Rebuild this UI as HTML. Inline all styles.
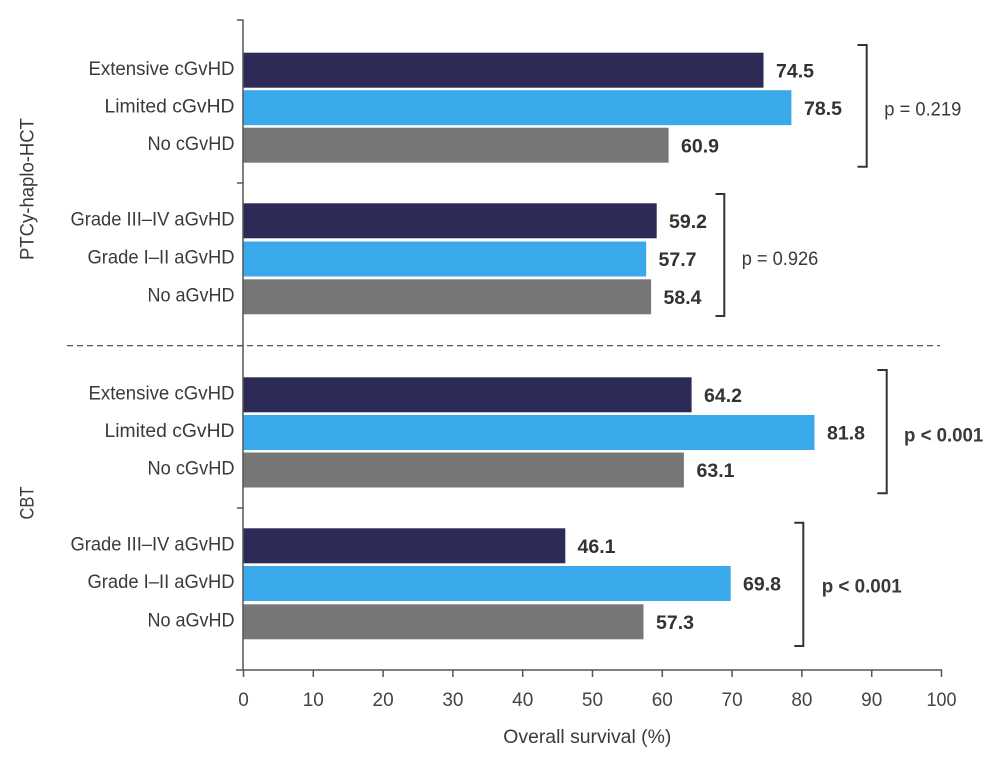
<!DOCTYPE html>
<html><head><meta charset="utf-8"><style>
html,body{margin:0;padding:0;background:#fff;}
svg{display:block;}
text{font-family:"Liberation Sans",sans-serif;fill:#3a3a3a;}
.cat{font-size:19.5px;text-anchor:end;}
.val{font-size:19px;font-weight:bold;fill:#333;}
.tick{font-size:19px;text-anchor:middle;fill:#444;}
</style></head><body>
<svg width="1000" height="764" viewBox="0 0 1000 764" xmlns="http://www.w3.org/2000/svg">
<line x1="67" y1="345.7" x2="940" y2="345.7" stroke="#444" stroke-width="1.2" stroke-dasharray="6 4"/>
<g>
<rect x="243.5" y="52.7" width="520" height="35" fill="#2c2a56"/>
<rect x="243.5" y="90.2" width="547.9" height="35" fill="#3aa9ec"/>
<rect x="243.5" y="127.7" width="425.1" height="35" fill="#777777"/>

<rect x="243.5" y="203.3" width="413.2" height="35" fill="#2c2a56"/>
<rect x="243.5" y="241.5" width="402.7" height="35" fill="#3aa9ec"/>
<rect x="243.5" y="279.3" width="407.6" height="35" fill="#777777"/>

<rect x="243.5" y="377.3" width="448.1" height="35" fill="#2c2a56"/>
<rect x="243.5" y="415" width="571" height="35" fill="#3aa9ec"/>
<rect x="243.5" y="452.5" width="440.4" height="35" fill="#777777"/>

<rect x="243.5" y="528.3" width="321.8" height="35" fill="#2c2a56"/>
<rect x="243.5" y="566" width="487.2" height="35" fill="#3aa9ec"/>
<rect x="243.5" y="604.3" width="400" height="35" fill="#777777"/>
</g>
<g>
<text class="val" x="776" y="77.5" textLength="38" lengthAdjust="spacingAndGlyphs">74.5</text>
<text class="val" x="804" y="115" textLength="38" lengthAdjust="spacingAndGlyphs">78.5</text>
<text class="val" x="681" y="152.5" textLength="38" lengthAdjust="spacingAndGlyphs">60.9</text>

<text class="val" x="669" y="228" textLength="38" lengthAdjust="spacingAndGlyphs">59.2</text>
<text class="val" x="658.5" y="266.2" textLength="38" lengthAdjust="spacingAndGlyphs">57.7</text>
<text class="val" x="663.5" y="304" textLength="38" lengthAdjust="spacingAndGlyphs">58.4</text>

<text class="val" x="704" y="402" textLength="38" lengthAdjust="spacingAndGlyphs">64.2</text>
<text class="val" x="827" y="439.7" textLength="38" lengthAdjust="spacingAndGlyphs">81.8</text>
<text class="val" x="696.5" y="477.2" textLength="38" lengthAdjust="spacingAndGlyphs">63.1</text>

<text class="val" x="577.5" y="553" textLength="38" lengthAdjust="spacingAndGlyphs">46.1</text>
<text class="val" x="743" y="590.7" textLength="38" lengthAdjust="spacingAndGlyphs">69.8</text>
<text class="val" x="656" y="629" textLength="38" lengthAdjust="spacingAndGlyphs">57.3</text>
</g>
<g>
<text class="cat" x="234.5" y="74.8" textLength="146" lengthAdjust="spacingAndGlyphs">Extensive cGvHD</text>
<text class="cat" x="234.5" y="112.3" textLength="130" lengthAdjust="spacingAndGlyphs">Limited cGvHD</text>
<text class="cat" x="234.5" y="149.8" textLength="87" lengthAdjust="spacingAndGlyphs">No cGvHD</text>

<text class="cat" x="234.5" y="225.3" textLength="164" lengthAdjust="spacingAndGlyphs">Grade III–IV aGvHD</text>
<text class="cat" x="234.5" y="263.5" textLength="147" lengthAdjust="spacingAndGlyphs">Grade I–II aGvHD</text>
<text class="cat" x="234.5" y="301.3" textLength="87" lengthAdjust="spacingAndGlyphs">No aGvHD</text>

<text class="cat" x="234.5" y="399.3" textLength="146" lengthAdjust="spacingAndGlyphs">Extensive cGvHD</text>
<text class="cat" x="234.5" y="437" textLength="130" lengthAdjust="spacingAndGlyphs">Limited cGvHD</text>
<text class="cat" x="234.5" y="474.5" textLength="87" lengthAdjust="spacingAndGlyphs">No cGvHD</text>

<text class="cat" x="234.5" y="550.3" textLength="164" lengthAdjust="spacingAndGlyphs">Grade III–IV aGvHD</text>
<text class="cat" x="234.5" y="588" textLength="147" lengthAdjust="spacingAndGlyphs">Grade I–II aGvHD</text>
<text class="cat" x="234.5" y="626.3" textLength="87" lengthAdjust="spacingAndGlyphs">No aGvHD</text>
</g>
<text x="0" y="0" font-size="19.5" text-anchor="middle" textLength="142" lengthAdjust="spacingAndGlyphs" transform="translate(33.5,189) rotate(-90)">PTCy-haplo-HCT</text>
<text x="0" y="0" font-size="19.5" text-anchor="middle" textLength="33" lengthAdjust="spacingAndGlyphs" transform="translate(33.5,503) rotate(-90)">CBT</text>
<g stroke="#555" stroke-width="1.5" fill="none">
<line x1="243" y1="19.5" x2="243" y2="670"/>
<line x1="236" y1="670" x2="942" y2="670"/>
<line x1="237" y1="20" x2="243" y2="20"/>
<line x1="237" y1="183" x2="243" y2="183"/>
<line x1="237" y1="345.7" x2="243" y2="345.7"/>
<line x1="237" y1="508" x2="243" y2="508"/>
<line x1="243.5" y1="670" x2="243.5" y2="677"/>
<line x1="313.3" y1="670" x2="313.3" y2="677"/>
<line x1="383.1" y1="670" x2="383.1" y2="677"/>
<line x1="452.9" y1="670" x2="452.9" y2="677"/>
<line x1="522.7" y1="670" x2="522.7" y2="677"/>
<line x1="592.5" y1="670" x2="592.5" y2="677"/>
<line x1="662.3" y1="670" x2="662.3" y2="677"/>
<line x1="732.1" y1="670" x2="732.1" y2="677"/>
<line x1="801.9" y1="670" x2="801.9" y2="677"/>
<line x1="871.7" y1="670" x2="871.7" y2="677"/>
<line x1="941.5" y1="670" x2="941.5" y2="677"/>
</g>
<g>
<text class="tick" x="243.5" y="706">0</text>
<text class="tick" x="313.3" y="706">10</text>
<text class="tick" x="383.1" y="706">20</text>
<text class="tick" x="452.9" y="706">30</text>
<text class="tick" x="522.7" y="706">40</text>
<text class="tick" x="592.5" y="706">50</text>
<text class="tick" x="662.3" y="706">60</text>
<text class="tick" x="732.1" y="706">70</text>
<text class="tick" x="801.9" y="706">80</text>
<text class="tick" x="871.7" y="706">90</text>
<text class="tick" x="941.5" y="706" textLength="30" lengthAdjust="spacingAndGlyphs">100</text>
</g>
<text x="503.3" y="743" font-size="19.5" textLength="168" lengthAdjust="spacingAndGlyphs">Overall survival (%)</text>
<g stroke="#333" stroke-width="2" fill="none">
<path d="M857.5,45 H866.7 V166.7 H857.5"/>
<path d="M715.5,194 H724.3 V316 H715.5"/>
<path d="M877.3,370 H886.7 V493.3 H877.3"/>
<path d="M794.3,522.7 H803.3 V646 H794.3"/>
</g>
<text x="884.3" y="115.7" font-size="19" textLength="77" lengthAdjust="spacingAndGlyphs">p = 0.219</text>
<text x="741.7" y="265" font-size="19" textLength="76.6" lengthAdjust="spacingAndGlyphs">p = 0.926</text>
<text x="904" y="441.7" font-size="19" font-weight="bold" fill="#333" textLength="79.3" lengthAdjust="spacingAndGlyphs">p &lt; 0.001</text>
<text x="821.7" y="592.3" font-size="19" font-weight="bold" fill="#333" textLength="80" lengthAdjust="spacingAndGlyphs">p &lt; 0.001</text>
</svg>
</body></html>
